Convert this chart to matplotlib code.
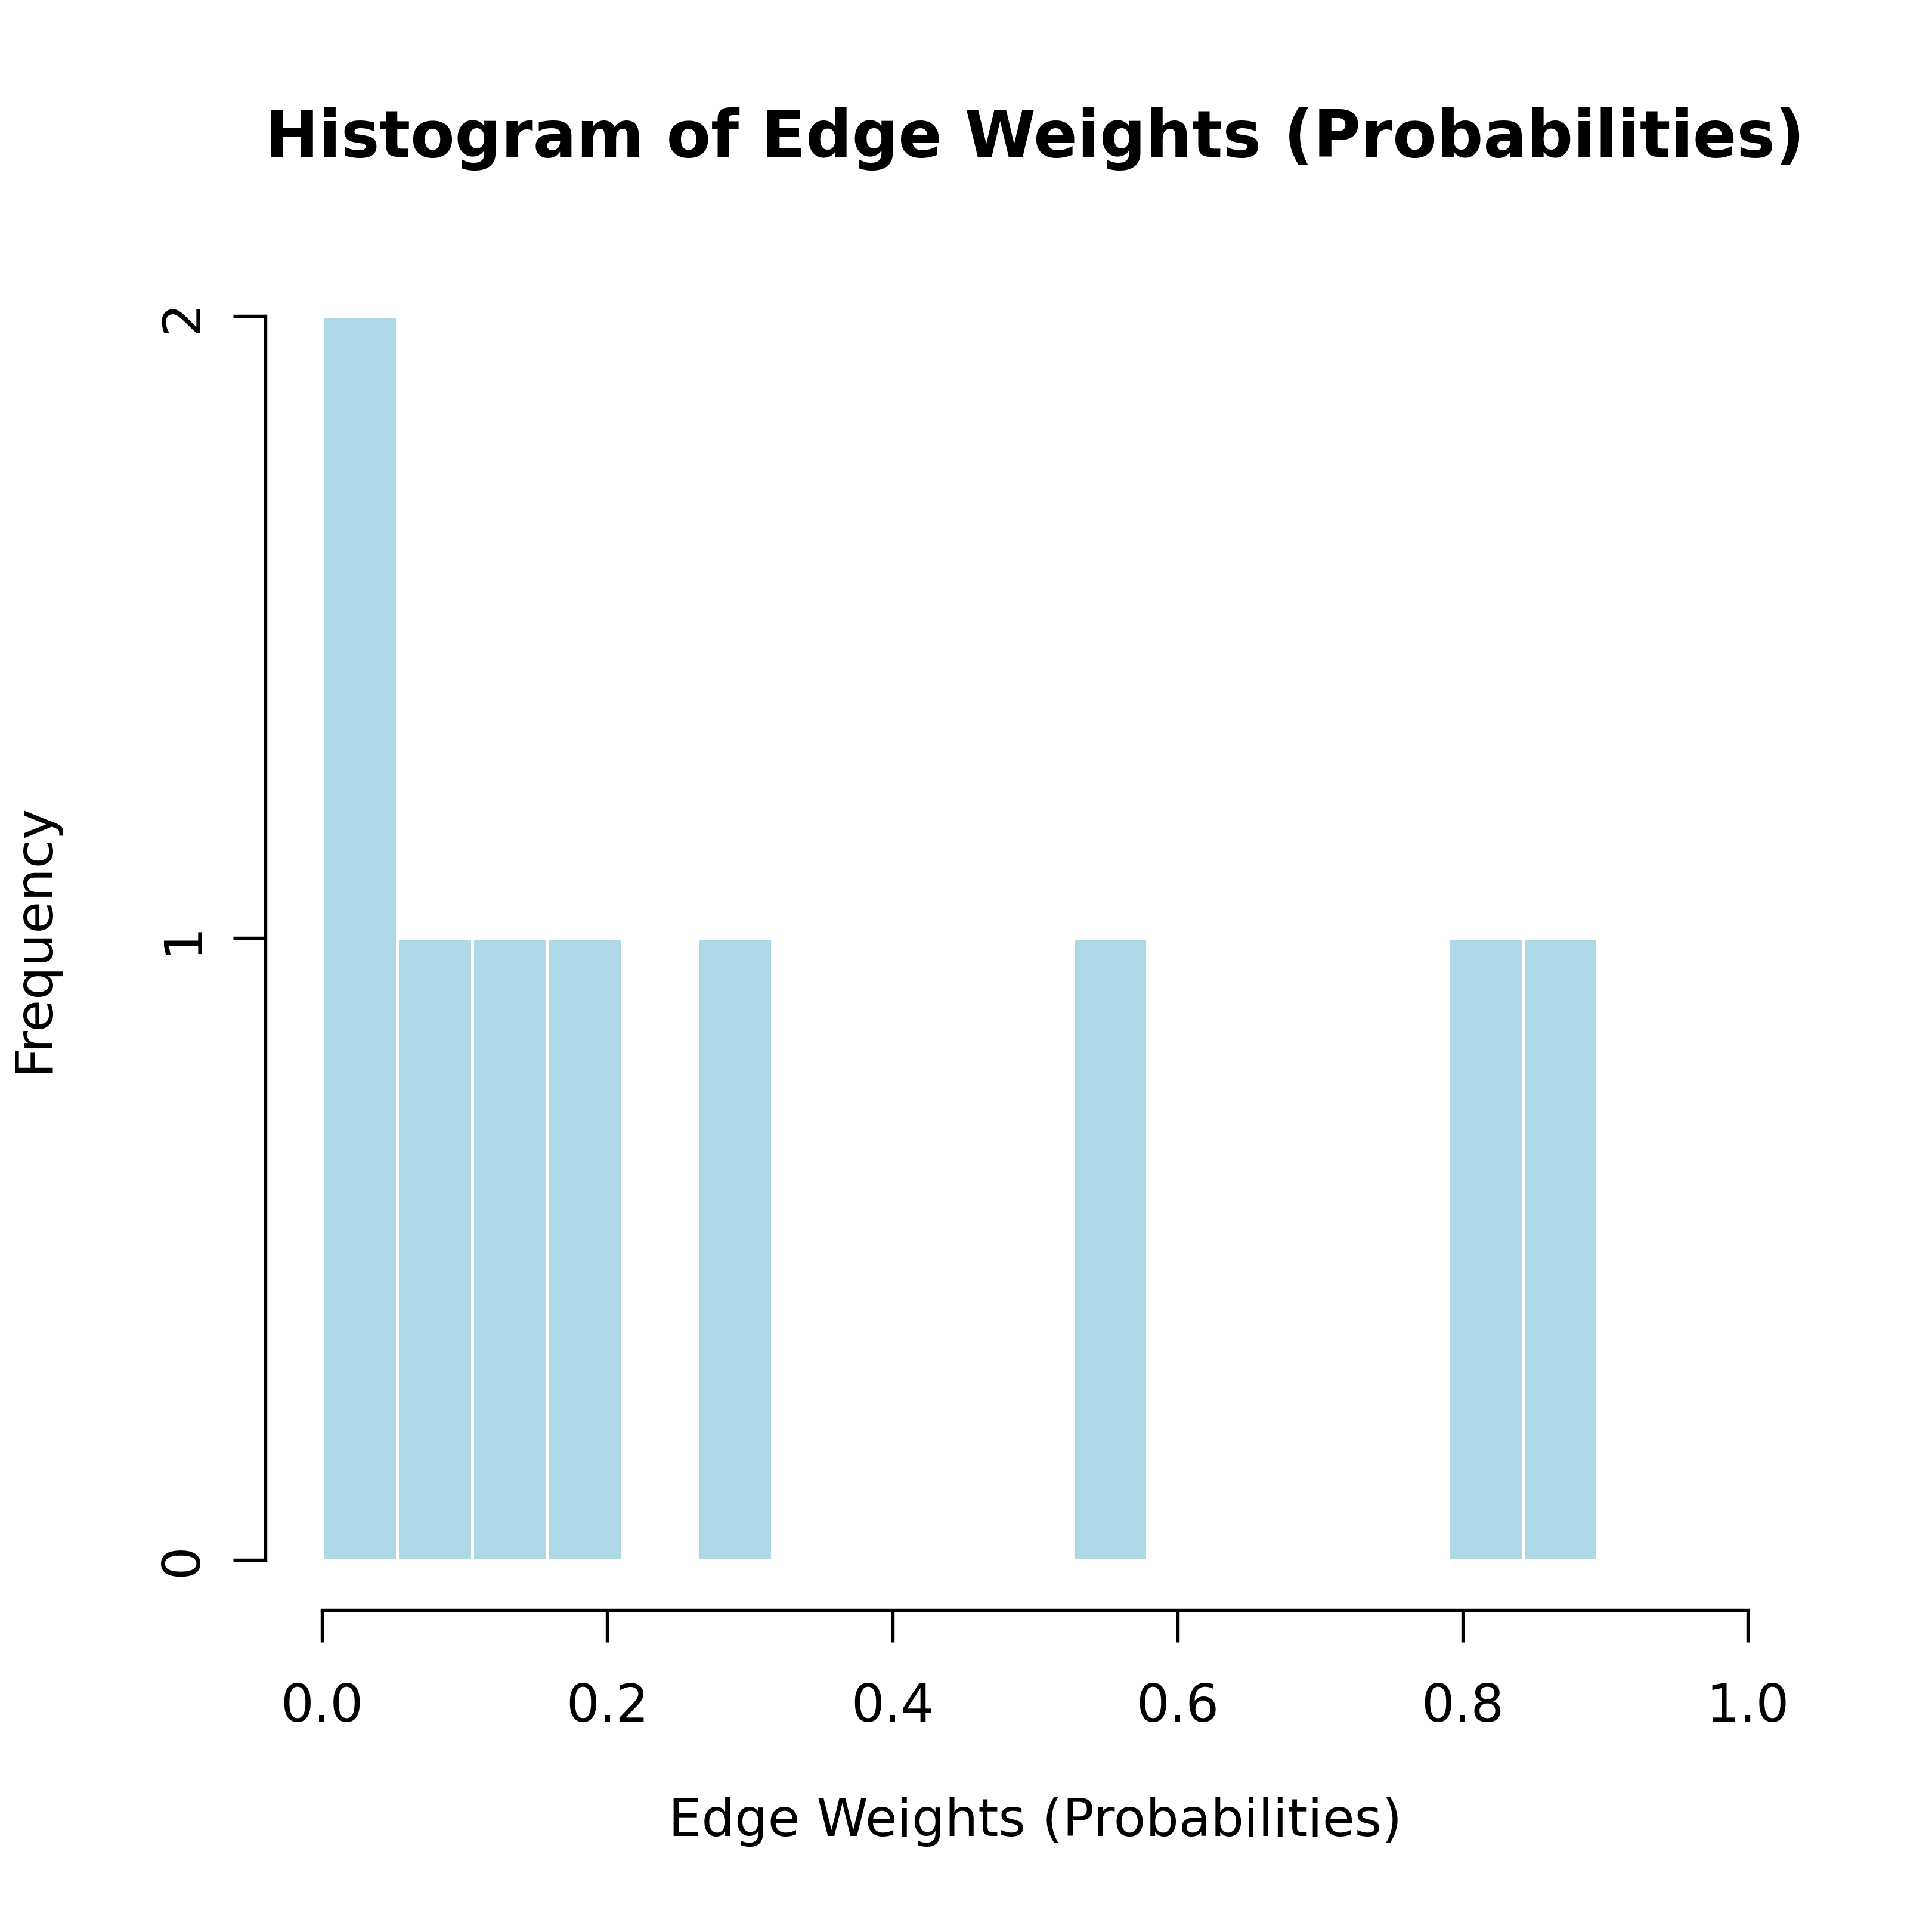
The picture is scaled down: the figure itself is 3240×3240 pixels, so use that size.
import matplotlib.pyplot as plt
import numpy as np

# histogram counts per bin (19 equal bins on [0, 1])
bin_edges = np.linspace(0, 1, 20)
counts = [2, 1, 1, 1, 0, 1, 0, 0, 0, 0, 1, 0, 0, 0, 0, 1, 1, 0, 0]
x_ticks = [0.0, 0.2, 0.4, 0.6, 0.8, 1.0]
y_ticks = [0, 1, 2]

fig = plt.figure(figsize=(10.8, 10.8), dpi=300)
ax = fig.add_axes([0.1372, 0.1667, 0.797, 0.6955])

widths = np.diff(bin_edges)
ax.bar(bin_edges[:-1], counts, width=widths, align="edge",
       color="lightblue", edgecolor="white", linewidth=1.2)

ax.set_xlim(-0.04, 1.04)
ax.set_ylim(-0.08, 2.08)
for s in ["top", "right"]:
    ax.spines[s].set_visible(False)
ax.spines["left"].set_bounds(0, 2)
ax.spines["bottom"].set_bounds(0, 1)
ax.spines["left"].set_linewidth(1.3)
ax.spines["bottom"].set_linewidth(1.3)

ax.set_xticks(x_ticks)
ax.set_xticklabels([f"{v:.1f}" for v in x_ticks])
ax.set_yticks(y_ticks)
ax.set_yticklabels([str(v) for v in y_ticks], rotation=90, va="center")
ax.tick_params(axis="both", length=13, width=1.3, labelsize=21)
ax.tick_params(axis="x", pad=16)
ax.tick_params(axis="y", pad=10)

ax.set_xlabel("Edge Weights (Probabilities)", fontsize=21, labelpad=26)
ax.set_ylabel("Frequency", fontsize=21, labelpad=40)
ax.set_title("Histogram of Edge Weights (Probabilities)",
             fontsize=26, fontweight="bold", pad=44)

fig.savefig("out.png")
